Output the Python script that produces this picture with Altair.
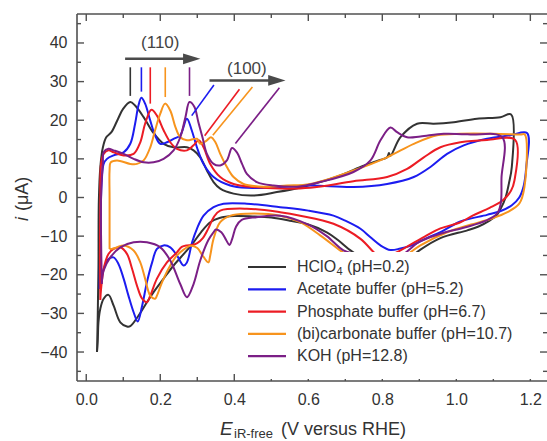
import altair as alt
import pandas as pd

# ---------------- data (E in V vs RHE, i in uA) ----------------
series = ["HClO4 (pH=0.2)", "Acetate buffer (pH=5.2)", "Phosphate buffer (pH=6.7)",
          "(bi)carbonate buffer (pH=10.7)", "KOH (pH=12.8)"]
colors = ["#333333", "#1c1cf0", "#ec1c24", "#f7941d", "#7b1f86"]

black_E = [0.029, 0.031, 0.033, 0.034, 0.038, 0.045, 0.054, 0.068, 0.086, 0.100, 0.119, 0.132, 0.155, 0.180,
           0.209, 0.236, 0.272, 0.290, 0.308, 0.326, 0.344, 0.362, 0.398, 0.450, 0.515, 0.580, 0.632, 0.686,
           0.741, 0.790, 0.813, 0.818, 0.822, 0.849, 0.894, 0.939, 0.993, 1.056, 1.119, 1.148,
           1.150, 1.142, 1.133, 1.122, 1.108, 1.090, 1.060, 1.030, 0.957, 0.903, 0.870, 0.830, 0.790, 0.750,
           0.714, 0.680, 0.650, 0.600, 0.550, 0.500, 0.450, 0.400, 0.360, 0.335, 0.310, 0.287, 0.260, 0.236,
           0.209, 0.182, 0.164, 0.141, 0.119, 0.110, 0.092, 0.074, 0.060, 0.047, 0.038, 0.033, 0.031, 0.029]
black_I = [-40.0, -31.0, -18.0, -1.0, 7.8, 13.0, 15.6, 16.9, 20.4, 23.0, 24.7, 23.8, 20.8, 16.9,
           13.9, 13.0, 13.0, 12.2, 10.4, 7.0, 4.0, 2.3, 1.0, 0.5, 1.4, 2.6, 4.0, 5.7,
           7.9, 9.6, 10.4, 11.5, 10.8, 15.6, 19.1, 19.1, 19.5, 20.4, 20.8, 21.5,
           8.0, 3.6, 0.0, -2.5, -4.7, -6.0, -7.5, -8.5, -10.5, -13.5, -16.0, -18.5, -18.5, -16.0,
           -13.7, -11.0, -9.0, -7.0, -6.0, -5.2, -4.9, -4.8, -5.3, -6.4, -9.0, -12.0, -15.0, -17.6,
           -21.0, -24.5, -27.1, -30.6, -33.3, -33.4, -32.3, -28.0, -25.2, -26.2, -28.8, -32.3, -37.5, -40.0]

blue_E = [0.036, 0.038, 0.040, 0.042, 0.047, 0.056, 0.074, 0.101, 0.119, 0.132, 0.141, 0.149, 0.159, 0.173,
          0.186, 0.200, 0.218, 0.236, 0.254, 0.272, 0.285, 0.299, 0.317, 0.344, 0.389, 0.434, 0.524, 0.605,
          0.722, 0.813, 0.885, 0.930, 0.975, 1.020, 1.083, 1.146, 1.191,
          1.189, 1.182, 1.170, 1.150, 1.120, 1.083, 1.011, 0.957, 0.920, 0.880, 0.849, 0.822, 0.795, 0.768,
          0.741, 0.700, 0.668, 0.600, 0.524, 0.434, 0.371, 0.344, 0.317, 0.299, 0.286, 0.272, 0.263, 0.245,
          0.227, 0.209, 0.191, 0.178, 0.164, 0.151, 0.139, 0.128, 0.114, 0.101, 0.087, 0.074, 0.060, 0.047,
          0.038, 0.036]
blue_I = [-23.7, -10.0, 0.0, 4.4, 8.7, 10.0, 10.9, 11.7, 13.9, 19.1, 23.8, 25.8, 24.3, 19.9,
          16.1, 13.9, 14.3, 15.2, 16.1, 20.4, 17.4, 13.0, 8.7, 5.3, 3.1, 2.5, 2.7, 3.1,
          2.7, 3.5, 5.3, 7.9, 11.3, 13.5, 15.2, 16.1, 16.7,
          8.0, 3.0, 0.0, -2.0, -3.5, -4.5, -6.2, -9.0, -10.5, -12.4, -13.2, -13.6, -12.4, -10.3,
          -8.1, -6.0, -4.7, -3.4, -2.5, -1.6, -1.6, -2.5, -4.7, -8.1, -11.6, -16.8, -17.6, -15.0,
          -12.9, -12.4, -13.3, -16.8, -21.9, -28.0, -32.1, -29.7, -25.4, -21.0, -17.2, -15.5, -15.9, -18.5,
          -21.9, -23.7]

red_E = [0.038, 0.037, 0.038, 0.038, 0.040, 0.047, 0.060, 0.074, 0.101, 0.128, 0.146, 0.159, 0.176, 0.191,
         0.209, 0.227, 0.245, 0.272, 0.290, 0.304, 0.317, 0.335, 0.362, 0.398, 0.452, 0.524, 0.605, 0.722,
         0.813, 0.867, 0.912, 0.957, 1.011, 1.083, 1.159,
         1.157, 1.148, 1.125, 1.090, 1.044, 1.011, 0.957, 0.920, 0.849, 0.820, 0.790, 0.777, 0.741, 0.668,
         0.578, 0.524, 0.434, 0.362, 0.345, 0.330, 0.315, 0.300, 0.285, 0.272, 0.258, 0.245, 0.218, 0.191,
         0.173, 0.164, 0.151, 0.137, 0.124, 0.110, 0.092, 0.074, 0.060, 0.047, 0.040, 0.038]
red_I = [-26.5, -15.0, 0.0, 4.4, 8.7, 11.3, 12.2, 11.7, 10.9, 11.3, 14.3, 19.1, 22.7, 21.2,
         17.4, 14.3, 12.6, 12.2, 13.5, 14.8, 13.0, 8.7, 5.3, 3.5, 2.7, 2.3, 2.5, 4.2,
         5.3, 7.4, 10.4, 13.0, 14.3, 14.9, 14.9,
         4.4, 1.8, -0.8, -2.7, -4.7, -6.4, -8.0, -9.8, -13.7, -15.0, -15.2, -14.2, -10.7, -6.8,
         -4.7, -3.8, -2.9, -3.4, -5.0, -8.0, -10.5, -11.8, -12.3, -12.4, -12.8, -14.2, -16.8, -21.0,
         -25.4, -27.1, -26.2, -22.8, -18.5, -14.6, -12.9, -13.3, -14.6, -18.5, -23.7, -26.5]

orange_E = [0.063, 0.063, 0.063, 0.066, 0.083, 0.119, 0.137, 0.155, 0.173, 0.186, 0.200, 0.213, 0.227, 0.241,
            0.254, 0.272, 0.299, 0.308, 0.326, 0.337, 0.349, 0.362, 0.380, 0.398, 0.425, 0.479, 0.542, 0.605,
            0.722, 0.813, 0.885, 0.948, 1.011, 1.100, 1.173, 1.185,
            1.184, 1.170, 1.138, 1.094, 1.040, 0.975, 0.903, 0.876, 0.840, 0.800, 0.760, 0.720, 0.686, 0.632,
            0.578, 0.524, 0.434, 0.390, 0.362, 0.344, 0.335, 0.330, 0.317, 0.299, 0.281, 0.263, 0.245, 0.227,
            0.205, 0.191, 0.186, 0.173, 0.159, 0.146, 0.128, 0.101, 0.083, 0.069, 0.063]
orange_I = [-13.3, 0.0, 7.0, 9.1, 9.6, 8.7, 8.7, 9.6, 13.0, 17.4, 21.7, 24.3, 22.5, 18.2,
            15.6, 14.8, 15.2, 13.9, 14.8, 15.6, 14.3, 11.3, 7.9, 5.3, 3.5, 2.8, 3.1, 3.5,
            7.0, 10.4, 13.9, 16.1, 16.5, 16.5, 16.3, 16.3,
            2.7, -1.6, -3.8, -5.5, -7.0, -9.0, -12.4, -14.2, -17.0, -19.0, -18.0, -16.0, -13.7, -9.8,
            -6.4, -4.7, -4.2, -4.7, -6.4, -10.7, -15.0, -16.8, -15.4, -13.0, -12.5, -13.5, -15.0, -17.6,
            -21.9, -25.4, -26.2, -25.4, -21.0, -16.8, -13.7, -12.4, -12.9, -13.3, -13.3]

purple_E = [0.042, 0.040, 0.040, 0.042, 0.045, 0.047, 0.060, 0.074, 0.101, 0.128, 0.155, 0.182, 0.209, 0.236,
            0.254, 0.268, 0.279, 0.292, 0.303, 0.314, 0.326, 0.344, 0.362, 0.380, 0.394, 0.407, 0.421, 0.434,
            0.461, 0.506, 0.569, 0.632, 0.722, 0.768, 0.795, 0.822, 0.840, 0.867, 0.903, 0.966, 1.038, 1.124,
            1.122, 1.120, 1.110, 1.080, 1.025, 0.957, 0.900, 0.860, 0.820, 0.780, 0.740, 0.695, 0.650, 0.600,
            0.524, 0.460, 0.420, 0.405, 0.395, 0.387, 0.378, 0.365, 0.350, 0.344, 0.330, 0.308, 0.290, 0.272,
            0.254, 0.227, 0.200, 0.164, 0.128, 0.092, 0.065, 0.047, 0.042]
purple_I = [-22.4, -10.0, 0.0, 5.0, 9.0, 11.7, 12.6, 12.2, 11.3, 10.0, 9.1, 9.1, 10.0, 12.2,
            15.6, 20.8, 24.7, 23.5, 19.5, 15.6, 11.3, 8.7, 8.3, 9.6, 12.8, 11.7, 8.7, 6.1,
            4.0, 3.1, 2.8, 4.0, 6.6, 9.6, 14.8, 18.1, 16.9, 15.6, 15.8, 16.5, 16.3, 15.6,
            5.0, -1.6, -4.2, -6.0, -7.7, -9.4, -11.5, -14.5, -17.0, -17.0, -15.0, -13.7, -10.0, -7.0,
            -4.7, -5.1, -5.8, -7.5, -10.5, -12.3, -11.0, -9.0, -8.3, -9.0, -11.0, -16.3, -22.4, -25.8,
            -22.4, -16.3, -12.9, -11.6, -11.6, -12.9, -15.5, -18.9, -22.4]

curves_E = [black_E, blue_E, red_E, orange_E, purple_E]
curves_I = [black_I, blue_I, red_I, orange_I, purple_I]

# (110) peak markers (vertical) and (100) peak markers (diagonal)
m110_E = [0.119, 0.149, 0.173, 0.2135, 0.279]
m110_Ilow = [26.3, 27.4, 24.3, 26.0, 26.3]
m110_Ihigh = [33.7, 33.7, 33.7, 33.7, 33.7]
m100_E1 = [0.345, 0.414, 0.449, 0.522]
m100_I1 = [29.1, 28.0, 28.6, 28.4]
m100_E2 = [0.285, 0.320, 0.342, 0.403]
m100_I2 = [21.2, 16.0, 16.1, 14.0]
m100_colors = [colors[1], colors[2], colors[3], colors[4]]

arrow_start = [0.105, 0.333]
arrow_end = [0.292, 0.522]
arrow_head = [0.285, 0.515]
arrow_I = [35.9, 30.3]
label_text = ["(110)", "(100)"]
label_E = [0.200, 0.434]
label_I = [39.9, 33.3]

x_major = [0.0, 0.2, 0.4, 0.6, 0.8, 1.0, 1.2]
x_minor = [0.1, 0.3, 0.5, 0.7, 0.9, 1.1]
y_major = [-40, -30, -20, -10, 0, 10, 20, 30, 40]
y_minor = [-45, -35, -25, -15, -5, 5, 15, 25, 35, 45]

# ---------------- chart ----------------
W, H = 470, 367
FONT = "Liberation Sans"
AX = "#505050"
TXT = "#333333"

xscale = alt.Scale(domain=[-0.025, 1.245], nice=False, zero=False)
yscale = alt.Scale(domain=[-47.5, 47.5], nice=False, zero=False)
xaxis = alt.Axis(values=x_major, format=".1f", ticks=False, tickSize=0, domain=False, grid=False,
                 labelFontSize=16, labelColor=TXT, labelFont=FONT, labelPadding=10, title=None)
yaxis = alt.Axis(values=y_major, format="d", ticks=False, tickSize=0, domain=False, grid=False,
                 labelFontSize=16, labelColor=TXT, labelFont=FONT, labelPadding=10, title=None)


def X(field="E"):
    return alt.X(f"{field}:Q", scale=xscale, axis=xaxis)


def Y(field="I"):
    return alt.Y(f"{field}:Q", scale=yscale, axis=yaxis)


one = pd.DataFrame({"a": [0]})
layers = []

# curves
for E, I, c in zip(curves_E, curves_I, colors):
    d = pd.DataFrame({"E": E, "I": I, "k": list(range(len(E)))})
    layers.append(alt.Chart(d).mark_line(color=c, strokeWidth=2, strokeJoin="round",
                                         interpolate="catmull-rom")
                  .encode(x=X(), y=Y(), order="k:Q"))

# (110) vertical markers
d110 = pd.DataFrame({"E": m110_E, "I": m110_Ilow, "I2": m110_Ihigh, "c": colors})
layers.append(alt.Chart(d110).mark_rule(strokeWidth=1.6).encode(
    x=X(), y=Y(), y2="I2:Q", color=alt.Color("c:N", scale=None)))
# (100) diagonal markers
d100 = pd.DataFrame({"E": m100_E1, "E2": m100_E2, "I": m100_I1, "I2": m100_I2, "c": m100_colors})
layers.append(alt.Chart(d100).mark_rule(strokeWidth=1.6).encode(
    x=X(), x2="E2:Q", y=Y(), y2="I2:Q", color=alt.Color("c:N", scale=None)))

# arrows
darr = pd.DataFrame({"E": arrow_start, "E2": arrow_end, "I": arrow_I})
layers.append(alt.Chart(darr).mark_rule(strokeWidth=2.4, color="#4a4a4a").encode(x=X(), x2="E2:Q", y=Y()))
dhead = pd.DataFrame({"E": arrow_head, "I": arrow_I})
layers.append(alt.Chart(dhead).mark_point(shape="M -1 -0.62 L 1 0 L -1 0.62 Z", filled=True, size=300,
                                          color="#4a4a4a", opacity=1).encode(x=X(), y=Y()))
dlab = pd.DataFrame({"E": label_E, "I": label_I, "t": label_text})
layers.append(alt.Chart(dlab).mark_text(fontSize=17, font=FONT, color="#444444").encode(
    x=X(), y=Y(), text="t:N"))

# frame (left, top, bottom)
layers.append(alt.Chart(one).mark_rule(color=AX, strokeWidth=1.6).encode(
    x=alt.value(0), y=alt.value(0), y2=alt.value(H)))
layers.append(alt.Chart(one).mark_rule(color=AX, strokeWidth=1.6).encode(
    y=alt.value(0), x=alt.value(0), x2=alt.value(W)))
layers.append(alt.Chart(one).mark_rule(color=AX, strokeWidth=1.6).encode(
    y=alt.value(H), x=alt.value(0), x2=alt.value(W)))

# ticks (inward)
for vals, ln in ((x_major, 7), (x_minor, 4)):
    d = pd.DataFrame({"E": vals})
    layers.append(alt.Chart(d).mark_rule(color=AX, strokeWidth=1.4).encode(
        x=X(), y=alt.value(0), y2=alt.value(ln)))
    layers.append(alt.Chart(d).mark_rule(color=AX, strokeWidth=1.4).encode(
        x=X(), y=alt.value(H), y2=alt.value(H - ln)))
for vals, ln in ((y_major, 7), (y_minor, 4)):
    d = pd.DataFrame({"I": vals})
    layers.append(alt.Chart(d).mark_rule(color=AX, strokeWidth=1.4).encode(
        y=Y(), x=alt.value(0), x2=alt.value(ln)))
    layers.append(alt.Chart(d).mark_rule(color=AX, strokeWidth=1.4).encode(
        y=Y(), x=alt.value(W), x2=alt.value(W - ln)))

# legend (white box, line swatches, labels)
LX, LY0, DY = 171, 253, 22.3
layers.append(alt.Chart(one).mark_rect(color="white").encode(
    x=alt.value(163), x2=alt.value(462), y=alt.value(238), y2=alt.value(H - 2)))
for r, (name, c) in enumerate(zip(series, colors)):
    yy = LY0 + r * DY
    layers.append(alt.Chart(one).mark_rule(color=c, strokeWidth=2.2).encode(
        x=alt.value(LX), x2=alt.value(LX + 38), y=alt.value(yy)))
    if r == 0:
        layers.append(alt.Chart(one).mark_text(text="HClO", align="left", baseline="middle", fontSize=16,
                                               font=FONT, color=TXT).encode(x=alt.value(220), y=alt.value(yy)))
        layers.append(alt.Chart(one).mark_text(text="4", align="left", baseline="middle", fontSize=11,
                                               font=FONT, color=TXT).encode(x=alt.value(259.5), y=alt.value(yy + 5)))
        layers.append(alt.Chart(one).mark_text(text="(pH=0.2)", align="left", baseline="middle", fontSize=16,
                                               font=FONT, color=TXT).encode(x=alt.value(270), y=alt.value(yy)))
    else:
        layers.append(alt.Chart(one).mark_text(text=name, align="left", baseline="middle", fontSize=16,
                                               font=FONT, color=TXT).encode(x=alt.value(220), y=alt.value(yy)))

# axis titles
layers.append(alt.Chart(one).mark_text(text="E", align="left", baseline="alphabetic", fontSize=19,
                                       fontStyle="italic", font=FONT, color=TXT).encode(
    x=alt.value(143), y=alt.value(421)))
layers.append(alt.Chart(one).mark_text(text="iR-free", align="left", baseline="alphabetic", fontSize=13,
                                       font=FONT, color=TXT).encode(x=alt.value(157), y=alt.value(424)))
layers.append(alt.Chart(one).mark_text(text="(V versus RHE)", align="left", baseline="alphabetic",
                                       fontSize=18, font=FONT, color=TXT).encode(
    x=alt.value(204), y=alt.value(421)))
layers.append(alt.Chart(one).mark_text(text="i", align="left", baseline="middle", fontSize=18, angle=270,
                                       fontStyle="italic", font=FONT, color=TXT).encode(
    x=alt.value(-54), y=alt.value(207)))
layers.append(alt.Chart(one).mark_text(text="(μA)", align="left", baseline="middle", fontSize=18, angle=270,
                                       font=FONT, color=TXT).encode(x=alt.value(-54), y=alt.value(197)))

chart = alt.layer(*layers).properties(
    width=W, height=H,
    padding={"left": 77, "top": 14, "right": 0, "bottom": 60},
    autosize=alt.AutoSizeParams(type="none"),
    background="white",
).configure_view(stroke=None)

chart.save("out.html", embed_options={"renderer": "svg", "actions": False})
